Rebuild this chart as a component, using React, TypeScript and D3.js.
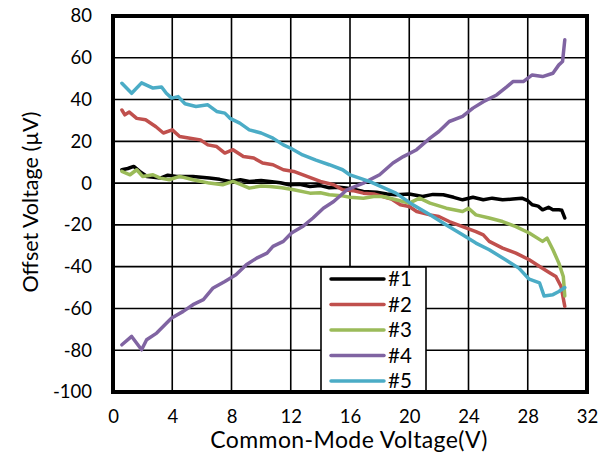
import React, { useEffect, useRef } from "react";
import * as d3 from "d3";

const xTicks = [0, 4, 8, 12, 16, 20, 24, 28, 32];
const yTicks = [80, 60, 40, 20, 0, -20, -40, -60, -80, -100];
const seriesNames = ["#1", "#2", "#3", "#4", "#5"];
const seriesColors = ["#000000", "#c0504d", "#9bbb59", "#8064a2", "#4bacc6"];

// [common-mode voltage V, offset uV]
const s1 = [
  [0.6, 6.4], [1.0, 7], [1.4, 8], [1.8, 5.6], [2.3, 3.2], [3.2, 2.4], [3.7, 3.8], [4.3, 3.2],
  [5.4, 3.2], [6.5, 2.4], [7.2, 1.8], [7.9, 0.8], [8.6, 1.6], [9.2, 0.8], [10.0, 1.2], [10.6, 0.8],
  [11.3, 0.2], [11.9, -0.8], [12.6, -0.6], [13.3, -1.6], [14.0, -1.2], [14.6, -2.2], [15.3, -2.0],
  [16.0, -2.6], [16.9, -4], [17.8, -4.4], [18.5, -5.2], [19.1, -5.6], [20.0, -5.2], [20.9, -6.4],
  [21.6, -5.4], [22.3, -5.6], [23.0, -6.8], [23.6, -8], [24.3, -6.8], [25.0, -8], [25.6, -7.2],
  [26.3, -8], [27.0, -7.6], [27.6, -7.2], [28.0, -8.4], [28.3, -10.4], [28.7, -11], [29.0, -12.8],
  [29.4, -11.6], [29.7, -12.8], [30.1, -12.8], [30.3, -13], [30.5, -16.7]
];
const s2 = [
  [0.6, 35], [0.8, 32.7], [1.1, 34], [1.6, 31], [2.2, 30.3], [2.9, 27], [3.4, 24], [4.0, 25.5],
  [4.5, 22.3], [5.2, 21.5], [5.9, 20.7], [6.4, 18.3], [7.0, 17.5], [7.55, 14.4], [8.1, 16],
  [8.8, 12.7], [9.5, 12], [10.1, 9.6], [10.8, 8.8], [11.5, 6.4], [12.2, 5.6], [13.1, 3.2],
  [14.0, 0.8], [14.9, -0.8], [15.5, -3.2], [16.2, -3.6], [16.9, -4.8], [17.6, -5.2], [18.2, -6.4],
  [18.8, -7.6], [19.4, -10.4], [20.0, -11.2], [20.5, -13.6], [21.4, -15.2], [22.0, -16], [22.7, -18.4],
  [23.6, -20.8], [24.5, -23.2], [25.0, -24.8], [25.4, -27.9], [26.3, -31.1], [27.2, -33.5],
  [28.1, -36.7], [28.8, -39.9], [29.5, -43], [29.9, -44.7], [30.25, -49.5], [30.5, -59]
];
const s3 = [
  [0.6, 5.6], [1.15, 4], [1.6, 6.4], [2.0, 3.2], [2.7, 4], [3.2, 2.4], [3.8, 1.6], [4.5, 3.2],
  [5.4, 1.6], [6.5, 0], [7.4, -0.8], [8.1, 0.8], [8.6, -0.6], [9.2, -2.4], [10.0, -1.4], [10.6, -1.6],
  [11.4, -2.2], [12.2, -3.2], [13.3, -4.8], [14.0, -4.6], [14.6, -5.6], [15.4, -6], [16.0, -6.8],
  [16.9, -7.2], [17.6, -6.4], [18.2, -6.4], [19.1, -8], [20.0, -9.6], [20.7, -7.2], [21.4, -9.6],
  [22.5, -12], [23.6, -13.6], [24.0, -12], [24.5, -15.2], [25.4, -16.7], [26.3, -18.4],
  [27.2, -20.8], [28.1, -23.9], [29.0, -27.9], [29.3, -26.3], [29.7, -31.9], [30.1, -38.3],
  [30.4, -44.7], [30.5, -54]
];
const s4 = [
  [0.6, -77.4], [1.26, -73.4], [1.93, -79.8], [2.27, -75], [2.95, -71.8], [3.62, -67], [3.96, -64.6],
  [4.74, -61.4], [5.4, -58.2], [6.1, -55.8], [6.76, -50.2], [7.55, -47.1], [8.3, -43.9], [9.0, -39.1],
  [9.7, -35.9], [10.4, -33.5], [10.8, -30.3], [11.5, -27.9], [12.05, -23.9], [12.8, -20.8],
  [13.5, -16.7], [14.2, -12], [14.9, -8.8], [15.8, -3.2], [16.9, 0], [18.0, 4], [18.9, 9.6],
  [19.6, 12.7], [20.5, 16], [21.4, 21.5], [22.0, 24.7], [22.7, 29.5], [23.6, 31.9], [24.3, 35.9],
  [25.0, 39], [25.9, 42.2], [26.6, 46.2], [27.0, 48.6], [27.7, 48.6], [28.3, 51.8], [29.0, 51],
  [29.7, 52.6], [30.1, 56.6], [30.35, 58.2], [30.5, 68.6]
];
const s5 = [
  [0.6, 47.8], [1.26, 43], [1.93, 48], [2.7, 45.5], [3.28, 46], [3.6, 43], [3.96, 40.7], [4.4, 41.4],
  [4.86, 38], [5.6, 36.7], [6.4, 37.5], [7.0, 34.3], [7.55, 33.5], [7.9, 31], [8.56, 28.7],
  [9.2, 25.5], [10.0, 24], [10.8, 21.5], [11.5, 18.3], [12.0, 16.7], [12.8, 13.5], [13.7, 11],
  [14.6, 8.8], [15.5, 6.4], [16.0, 3.9], [17.3, 0.8], [19.1, -4.8], [20.25, -10.4], [21.4, -15.2],
  [22.5, -20], [23.6, -24.7], [24.5, -28.7], [25.4, -31.9], [26.5, -36.7], [27.4, -40.7], [28.1, -46],
  [28.8, -47.8], [29.1, -54], [29.7, -53.4], [30.1, -51.9], [30.5, -50]
];
const allSeries = [s1, s2, s3, s4, s5];

export default function App() {
  const svgRef = useRef<SVGSVGElement>(null);

  useEffect(() => {
    const width = 611;
    const height = 460;
    const left = 113, right = 587, top = 16, bottom = 392;
    const font = "Lato, 'Open Sans', sans-serif";

    const svg = d3.select(svgRef.current);
    svg.selectAll("*").remove();

    const x = d3.scaleLinear().domain([0, 32]).range([left, right]);
    const y = d3.scaleLinear().domain([-100, 80]).range([bottom, top]);

    // grid
    const grid = svg.append("g");
    grid.selectAll("line.v").data(xTicks).enter().append("line")
      .attr("x1", (d) => x(d)).attr("x2", (d) => x(d))
      .attr("y1", top).attr("y2", bottom)
      .attr("stroke", "#000").attr("stroke-width", 1.6);
    grid.selectAll("line.h").data(yTicks).enter().append("line")
      .attr("x1", left).attr("x2", right)
      .attr("y1", (d) => y(d)).attr("y2", (d) => y(d))
      .attr("stroke", "#000").attr("stroke-width", 1.6);

    // axes (labels only, plain hyphen for negatives)
    const fmt = (d: d3.NumberValue) => String(d);
    const xAxis = d3.axisBottom(x).tickValues(xTicks).tickSize(0).tickPadding(18).tickFormat(fmt);
    const yAxis = d3.axisLeft(y).tickValues(yTicks).tickSize(0).tickPadding(21).tickFormat(fmt);
    const gx = svg.append("g").attr("transform", `translate(0,${bottom})`).call(xAxis);
    const gy = svg.append("g").attr("transform", `translate(${left},0)`).call(yAxis);
    [gx, gy].forEach((g) => {
      g.select(".domain").remove();
      g.selectAll("text").attr("font-family", font).attr("font-size", 18.5).attr("fill", "#000");
    });

    // series
    const line = d3.line<number[]>().x((d) => x(d[0])).y((d) => y(d[1]));
    allSeries.forEach((s, i) => {
      svg.append("path")
        .attr("d", line(s))
        .attr("fill", "none")
        .attr("stroke", seriesColors[i])
        .attr("stroke-width", 3.5)
        .attr("stroke-linejoin", "round")
        .attr("stroke-linecap", "round");
    });

    // legend
    const lg = svg.append("g");
    lg.append("rect")
      .attr("x", 321).attr("y", 267).attr("width", 105).attr("height", bottom - 267)
      .attr("fill", "#fff").attr("stroke", "#000").attr("stroke-width", 1.6);
    seriesNames.forEach((name, i) => {
      const ly = 279 + i * 25.5;
      lg.append("line")
        .attr("x1", 331).attr("x2", 384).attr("y1", ly).attr("y2", ly)
        .attr("stroke", seriesColors[i]).attr("stroke-width", 3.5)
        .attr("stroke-linecap", "round");
      lg.append("text")
        .attr("x", 388).attr("y", ly).attr("dy", "0.35em")
        .attr("font-family", font).attr("font-size", 20.5)
        .text(name);
    });

    // plot border
    svg.append("rect")
      .attr("x", left).attr("y", top)
      .attr("width", right - left).attr("height", bottom - top)
      .attr("fill", "none").attr("stroke", "#000").attr("stroke-width", 4);

    // axis titles
    svg.append("text")
      .attr("x", 349).attr("y", 448)
      .attr("text-anchor", "middle")
      .attr("font-family", font).attr("font-size", 23)
      .attr("letter-spacing", 0.4)
      .text("Common-Mode Voltage(V)");
    svg.append("text")
      .attr("transform", `translate(30,202) rotate(-90)`)
      .attr("text-anchor", "middle").attr("dy", "0.35em")
      .attr("font-family", font).attr("font-size", 21.5)
      .text("Offset Voltage (\u00b5V)");

    svg.attr("width", width).attr("height", height);
  }, []);

  return (
    <svg
      ref={svgRef}
      width={611}
      height={460}
      style={{ position: "absolute", left: 0, top: 0, background: "#fff" }}
    />
  );
}
